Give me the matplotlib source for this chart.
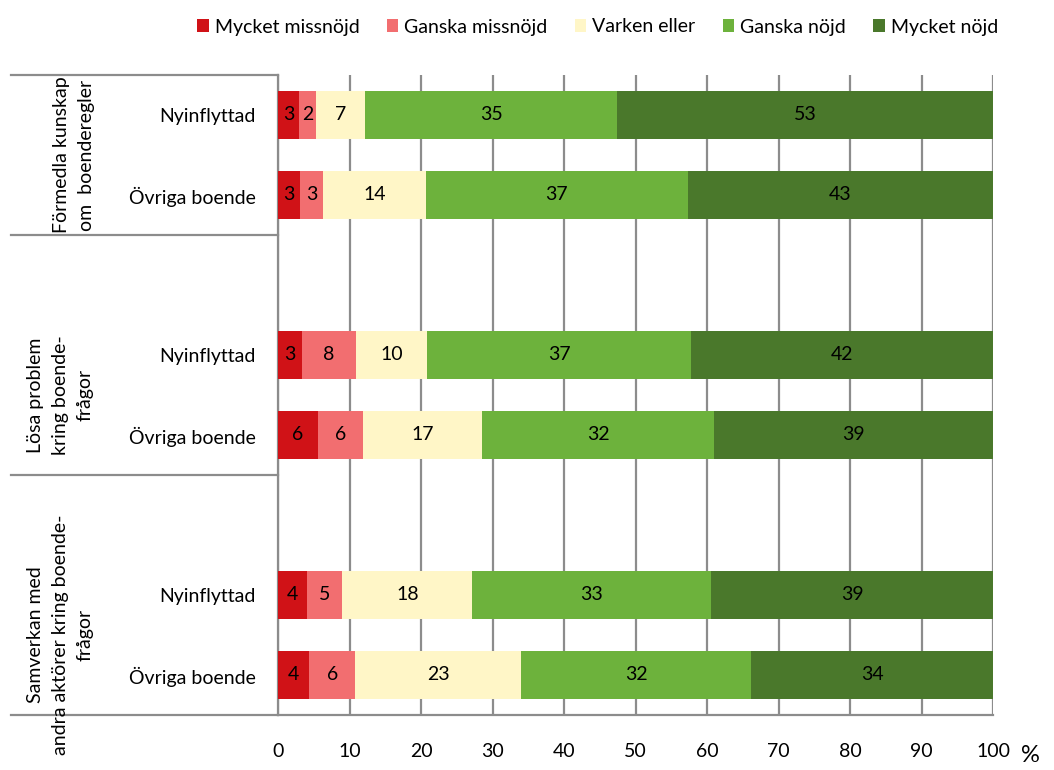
import numpy as np
import matplotlib.pyplot as plt

plt.rcParams['font.family'] = ['Lato', 'DejaVu Sans']

# response shares (%) per row, top to bottom
rows = ["Nyinflyttad", "Övriga boende",
        "Nyinflyttad", "Övriga boende",
        "Nyinflyttad", "Övriga boende"]
row_pos = [0, 1, 3, 4, 6, 7]

mycket_missnojd = [3.0, 3.1, 3.3, 5.6, 4.1, 4.4]
ganska_missnojd = [2.3, 3.2, 7.6, 6.3, 4.9, 6.4]
varken_eller = [6.9, 14.4, 9.9, 16.7, 18.2, 23.2]
ganska_nojd = [35.2, 36.6, 37.0, 32.4, 33.4, 32.2]
mycket_nojd = [52.6, 42.7, 42.2, 39.0, 39.4, 33.8]

series = [mycket_missnojd, ganska_missnojd, varken_eller, ganska_nojd, mycket_nojd]
names = ["Mycket missnöjd", "Ganska missnöjd", "Varken eller", "Ganska nöjd", "Mycket nöjd"]
colors = ["#D01217", "#F26E70", "#FFF6C7", "#6DB23C", "#4A782B"]

groups = ["Förmedla kunskap\nom  boenderegler",
          "Lösa problem\nkring boende-\nfrågor",
          "Samverkan med\nandra aktörer kring boende-\nfrågor"]
group_mid = [0.5, 3.5, 6.5]
group_x = [0.070, 0.057, 0.057]
separators = [-0.5, 1.5, 4.5, 7.5]

grey = "#8C8C8C"
fs = 14

fig = plt.figure(figsize=(10.54, 7.7), dpi=100)
ax = fig.add_axes([278 / 1054, 1 - 715 / 770, 715 / 1054, 640 / 770])

left = np.zeros(len(rows))
for vals, name, col in zip(series, names, colors):
    vals = np.array(vals)
    ax.barh(row_pos, vals, left=left, height=0.59, color=col, label=name, zorder=3)
    for y, l, v in zip(row_pos, left, vals):
        ax.text(l + v / 2, y, f"{v:.0f}", ha="center", va="center",
                fontsize=fs, color="black", zorder=4)
    left += vals

ax.set_xlim(0, 100)
ax.set_ylim(7.5, -0.5)
ax.set_xticks(range(0, 101, 10))
ax.set_yticks(row_pos)
ax.set_yticklabels(rows)
ax.tick_params(axis="both", length=0, labelsize=fs)
ax.tick_params(axis="x", pad=20)
ax.tick_params(axis="y", pad=16)
ax.grid(axis="x", color=grey, linewidth=1.6, zorder=0)

for s in ["top", "right"]:
    ax.spines[s].set_visible(False)
for s in ["left", "bottom"]:
    ax.spines[s].set_color(grey)
    ax.spines[s].set_linewidth(1.6)

# group separators to the left of the plot
trans = ax.get_yaxis_transform()
for y in separators:
    ax.plot([-0.374, 0], [y, y], color=grey, linewidth=1.6,
            transform=trans, clip_on=False)

for g, ym, gx in zip(groups, group_mid, group_x):
    fig.text(gx, 1 - (75 + (ym + 0.5) * 80) / 770, g, rotation=90,
             ha="center", va="center", fontsize=fs, linespacing=1.55,
             multialignment="center")

fig.text(1030 / 1054, 1 - 756 / 770, "%", ha="center", va="center", fontsize=17)

fig.legend(loc="center", bbox_to_anchor=(0.567, 1 - 27 / 770), ncol=5,
           frameon=False, fontsize=fs, handlelength=0.6, handleheight=0.6,
           handletextpad=0.3, columnspacing=1.4)

fig.savefig("out.png", dpi=100)
